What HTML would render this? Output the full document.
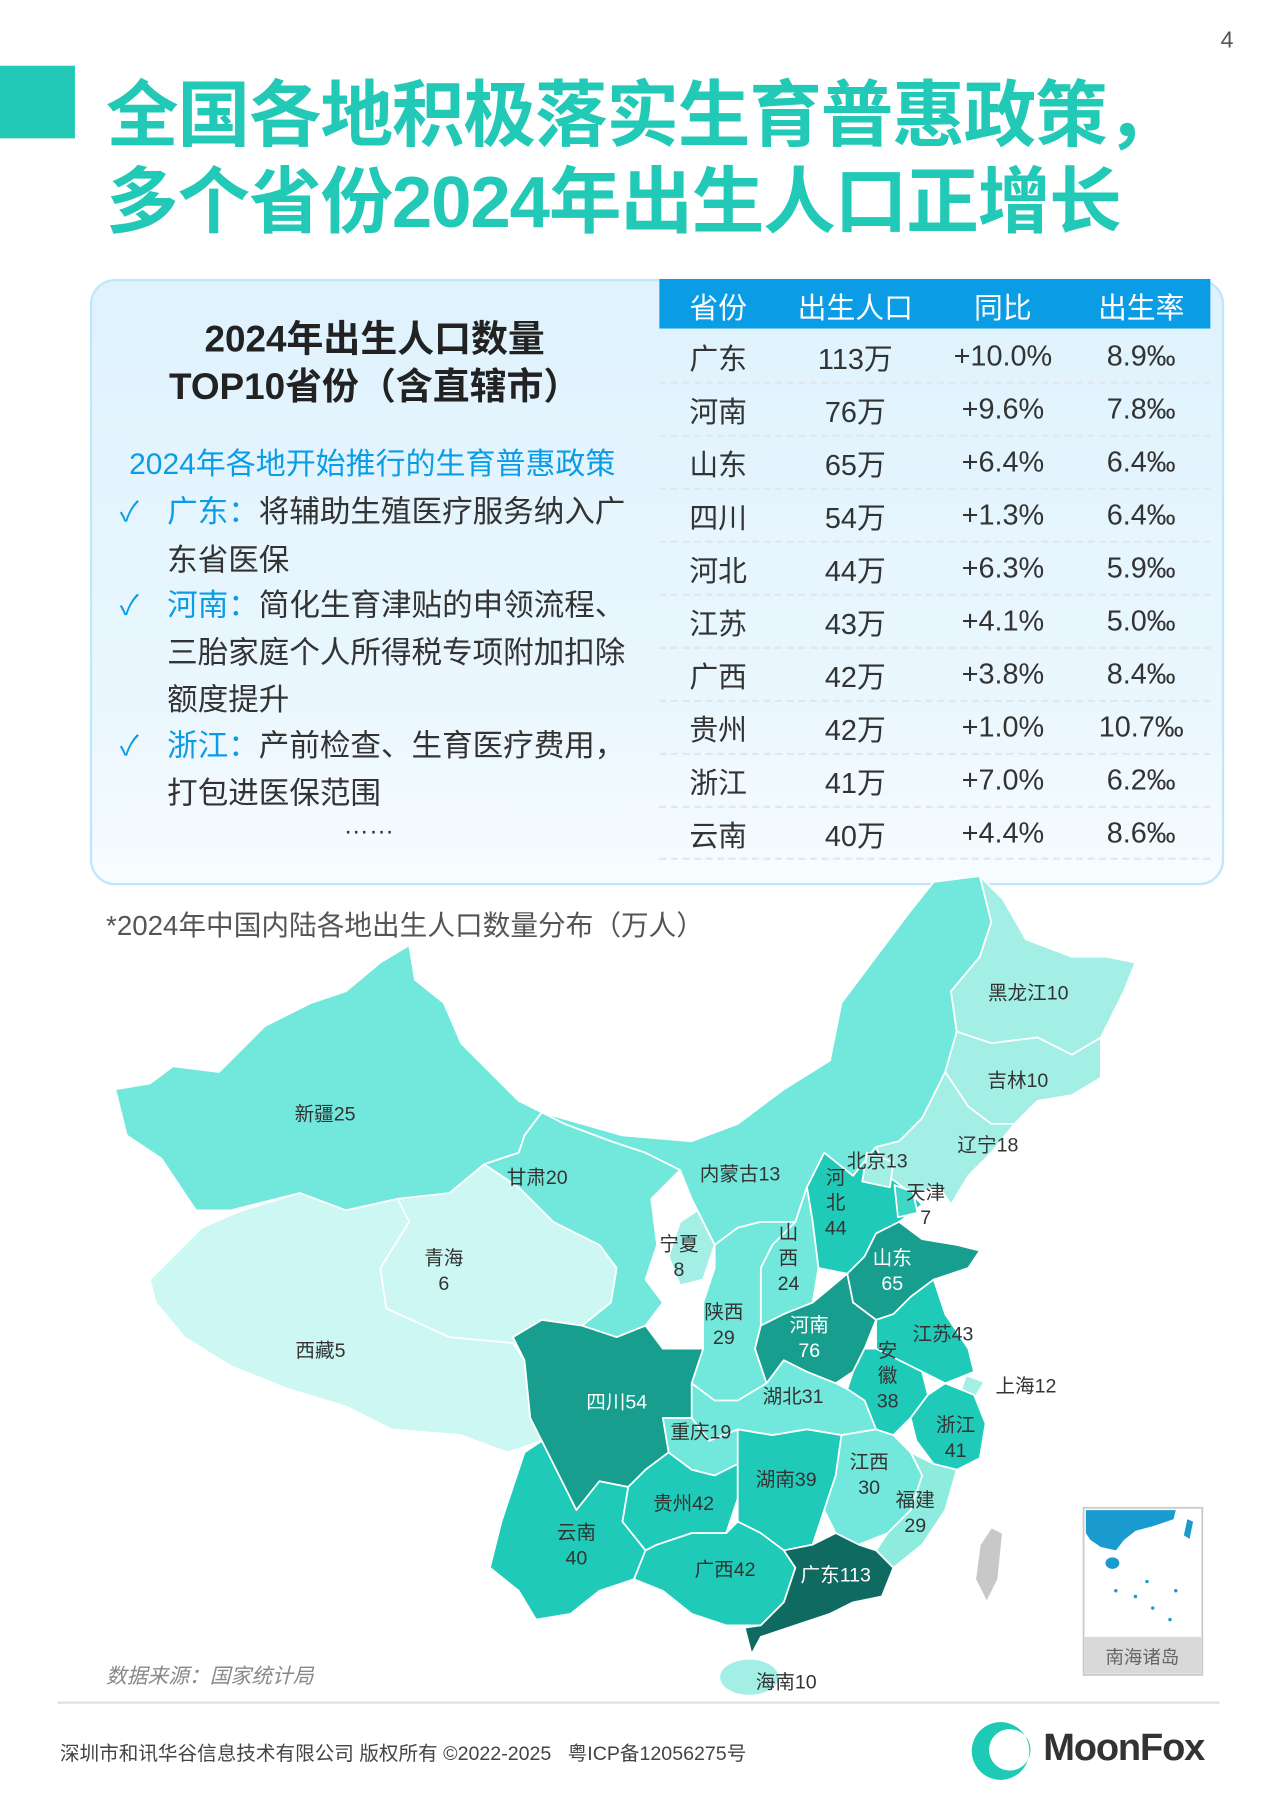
<!DOCTYPE html>
<html><head><meta charset="utf-8">
<style>
html,body{margin:0;padding:0;background:#fff;}
body{width:1268px;height:1793px;overflow:hidden;position:relative;}
#w{position:absolute;left:0;top:0;width:1100px;height:1556px;transform:scale(1.15273);transform-origin:0 0;font-family:"Liberation Sans","Noto Sans CJK SC",sans-serif;}
.a{position:absolute;white-space:nowrap;}
.t{font-weight:bold;color:#22c9b6;font-size:63px;left:92px;letter-spacing:-1px;}
.panel{position:absolute;left:78px;top:242px;width:984px;height:526px;border-radius:22px;border:2px solid #bfe6fa;background:linear-gradient(#dff2fd,#eaf7fe 70%,#f7fcff);box-sizing:border-box;}
.hd{position:absolute;left:572px;top:242px;width:478px;height:43px;background:#0a9de6;}
.c{position:absolute;text-align:center;font-size:25px;color:#333;width:130px;}
.sep{position:absolute;left:572px;width:478px;border-top:2px dashed #dfe8ee;}
.it{position:absolute;font-size:26.5px;color:#333;left:145px;}
.ck{position:absolute;left:104px;font-size:24px;color:#0a9de6;}
.b{color:#0a9de6;}
svg text{font-family:"Liberation Sans","Noto Sans CJK SC",sans-serif;font-size:17px;fill:#333;text-anchor:middle;}
</style></head><body><div id="w">
<div class="a" style="right:30px;top:24px;font-size:20px;color:#555;">4</div>
<div class="a" style="left:0;top:57px;width:65px;height:63px;background:#22c9b6;"></div>
<div class="a t" style="top:50px;">全国各地积极落实生育普惠政策，</div>
<div class="a t" style="top:125px;">多个省份2024年出生人口正增长</div>

<div class="panel"></div>
<div class="a" style="left:78px;width:494px;top:274px;text-align:center;font-size:32px;font-weight:bold;color:#222;line-height:41px;">2024年出生人口数量<br>TOP10省份（含直辖市）</div>
<div class="a" style="left:112px;top:382px;font-size:26px;color:#0a9de6;">2024年各地开始推行的生育普惠政策</div>
<div class="ck" style="top:424px;">✓</div><div class="it" style="top:422px;"><span class="b">广东：</span>将辅助生殖医疗服务纳入广</div>
<div class="it" style="top:464px;">东省医保</div>
<div class="ck" style="top:505px;">✓</div><div class="it" style="top:503px;"><span class="b">河南：</span>简化生育津贴的申领流程、</div>
<div class="it" style="top:544px;">三胎家庭个人所得税专项附加扣除</div>
<div class="it" style="top:585px;">额度提升</div>
<div class="ck" style="top:627px;">✓</div><div class="it" style="top:625px;"><span class="b">浙江：</span>产前检查、生育医疗费用，</div>
<div class="it" style="top:666px;">打包进医保范围</div>
<div class="a" style="left:298px;top:703px;font-size:22px;color:#333;">……</div>

<div class="hd"></div>
<div class="c" style="left:558px;top:248px;color:#fff;">省份</div>
<div class="c" style="left:677px;top:248px;color:#fff;">出生人口</div>
<div class="c" style="left:805px;top:248px;color:#fff;">同比</div>
<div class="c" style="left:925px;top:248px;color:#fff;">出生率</div>

<div class="c" style="left:558px;top:292px">广东</div><div class="c" style="left:677px;top:292px">113万</div><div class="c" style="left:805px;top:295px">+10.0%</div><div class="c" style="left:925px;top:295px">8.9‰</div>
<div class="c" style="left:558px;top:338px">河南</div><div class="c" style="left:677px;top:338px">76万</div><div class="c" style="left:805px;top:341px">+9.6%</div><div class="c" style="left:925px;top:341px">7.8‰</div>
<div class="c" style="left:558px;top:384px">山东</div><div class="c" style="left:677px;top:384px">65万</div><div class="c" style="left:805px;top:387px">+6.4%</div><div class="c" style="left:925px;top:387px">6.4‰</div>
<div class="c" style="left:558px;top:430px">四川</div><div class="c" style="left:677px;top:430px">54万</div><div class="c" style="left:805px;top:433px">+1.3%</div><div class="c" style="left:925px;top:433px">6.4‰</div>
<div class="c" style="left:558px;top:476px">河北</div><div class="c" style="left:677px;top:476px">44万</div><div class="c" style="left:805px;top:479px">+6.3%</div><div class="c" style="left:925px;top:479px">5.9‰</div>
<div class="c" style="left:558px;top:522px">江苏</div><div class="c" style="left:677px;top:522px">43万</div><div class="c" style="left:805px;top:525px">+4.1%</div><div class="c" style="left:925px;top:525px">5.0‰</div>
<div class="c" style="left:558px;top:568px">广西</div><div class="c" style="left:677px;top:568px">42万</div><div class="c" style="left:805px;top:571px">+3.8%</div><div class="c" style="left:925px;top:571px">8.4‰</div>
<div class="c" style="left:558px;top:614px">贵州</div><div class="c" style="left:677px;top:614px">42万</div><div class="c" style="left:805px;top:617px">+1.0%</div><div class="c" style="left:925px;top:617px">10.7‰</div>
<div class="c" style="left:558px;top:660px">浙江</div><div class="c" style="left:677px;top:660px">41万</div><div class="c" style="left:805px;top:663px">+7.0%</div><div class="c" style="left:925px;top:663px">6.2‰</div>
<div class="c" style="left:558px;top:706px">云南</div><div class="c" style="left:677px;top:706px">40万</div><div class="c" style="left:805px;top:709px">+4.4%</div><div class="c" style="left:925px;top:709px">8.6‰</div>
<div class="sep" style="top:331px"></div><div class="sep" style="top:377px"></div><div class="sep" style="top:423px"></div><div class="sep" style="top:469px"></div><div class="sep" style="top:515px"></div><div class="sep" style="top:561px"></div><div class="sep" style="top:607px"></div><div class="sep" style="top:653px"></div><div class="sep" style="top:699px"></div><div class="sep" style="top:744px"></div>

<div class="a" style="left:92px;top:783px;font-size:24px;color:#555;">*2024年中国内陆各地出生人口数量分布（万人）</div>

<svg class="a" style="left:0;top:0" width="1100" height="1556" viewBox="0 0 1100 1556">
<g stroke="#fff" stroke-width="1.5" stroke-linejoin="round">
<polygon fill="#72e8dc" points="100,945 130,940 150,925 190,930 230,890 270,870 300,860 330,835 355,820 360,850 385,870 400,905 415,920 450,955 470,965 455,985 450,1000 420,1010 390,1035 345,1040 300,1050 260,1035 200,1050 170,1050 140,1005 110,985"/>
<polygon fill="#ccf7f2" points="130,1110 175,1065 210,1050 260,1035 300,1050 345,1040 355,1060 330,1100 335,1135 390,1160 445,1165 455,1180 460,1230 470,1250 440,1260 400,1245 340,1240 300,1220 250,1205 200,1185 160,1160 135,1130"/>
<polygon fill="#ccf7f2" points="345,1040 390,1035 420,1010 450,1030 480,1060 520,1080 535,1100 530,1130 505,1150 470,1145 455,1180 445,1165 390,1160 335,1135 330,1100 355,1060"/>
<polygon fill="#72e8dc" points="420,1010 450,1000 455,985 470,965 490,975 530,990 560,1000 590,1015 565,1040 570,1080 560,1110 575,1130 560,1150 535,1160 505,1150 530,1130 535,1100 520,1080 480,1060 450,1030"/>
<polygon fill="#72e8dc" points="470,965 540,985 600,990 640,975 680,945 720,920 730,870 760,830 790,790 810,765 850,760 860,800 850,830 825,860 830,895 820,930 800,970 780,990 760,995 740,1020 715,1000 700,1030 690,1060 660,1060 640,1065 620,1080 600,1040 590,1015 560,1000 530,990 490,975"/>
<polygon fill="#a3efe6" points="850,760 860,800 850,830 825,860 830,895 860,905 900,900 930,915 955,900 975,860 985,835 960,830 930,830 890,815 870,780"/>
<polygon fill="#a3efe6" points="820,930 830,895 860,905 900,900 930,915 955,900 955,935 930,950 900,955 880,975 860,975 840,960"/>
<polygon fill="#a3efe6" points="800,970 820,930 840,960 860,975 880,975 860,1000 840,1020 825,1045 815,1030 790,1035 770,1020 760,995 780,990"/>
<polygon fill="#1fcbb8" points="715,1000 740,1020 760,995 770,1020 790,1035 800,1045 780,1060 760,1070 750,1090 735,1105 710,1100 705,1060 700,1030"/>
<polygon fill="#a3efe6" points="752,1000 775,1008 772,1030 748,1025"/>
<polygon fill="#3fd6c6" points="776,1028 792,1034 796,1052 779,1056"/>
<polygon fill="#72e8dc" points="690,1060 700,1030 705,1060 710,1100 705,1130 680,1140 660,1150 660,1100 670,1080"/>
<polygon fill="#72e8dc" points="640,1065 660,1060 690,1060 670,1080 660,1100 660,1150 655,1170 665,1200 640,1215 620,1215 600,1200 610,1170 610,1130 620,1100 620,1080"/>
<polygon fill="#a3efe6" points="590,1060 605,1050 620,1080 610,1110 590,1115 580,1090"/>
<polygon fill="#189e8e" points="735,1105 750,1090 760,1070 780,1060 800,1075 830,1080 850,1085 840,1100 810,1110 790,1125 775,1140 760,1145 740,1130"/>
<polygon fill="#189e8e" points="660,1150 680,1140 705,1130 735,1105 740,1130 760,1145 750,1170 740,1190 725,1200 700,1190 680,1180 665,1200 655,1170"/>
<polygon fill="#1fcbb8" points="760,1145 775,1140 790,1125 810,1110 820,1140 840,1170 845,1190 820,1200 800,1190 780,1180 760,1170"/>
<polygon fill="#1fcbb8" points="750,1170 760,1170 780,1180 800,1190 805,1210 790,1230 775,1245 760,1240 750,1215 735,1205 740,1190"/>
<polygon fill="#a3efe6" points="838,1193 854,1199 846,1212 834,1205"/>
<polygon fill="#1fcbb8" points="805,1210 820,1200 845,1210 855,1235 850,1265 830,1275 810,1270 795,1250 790,1230"/>
<polygon fill="#72e8dc" points="600,1200 620,1215 640,1215 665,1200 680,1180 700,1190 725,1200 735,1205 750,1215 760,1240 730,1245 700,1240 670,1245 640,1240 615,1250 600,1230"/>
<polygon fill="#72e8dc" points="575,1230 600,1230 615,1250 640,1240 640,1270 620,1280 600,1275 580,1260"/>
<polygon fill="#189e8e" points="445,1160 470,1145 505,1150 535,1160 560,1150 575,1170 610,1170 600,1200 600,1230 575,1230 580,1260 560,1275 545,1290 520,1285 500,1310 490,1290 470,1250 460,1230 455,1180"/>
<polygon fill="#1fcbb8" points="470,1250 490,1290 500,1310 520,1285 545,1290 540,1320 560,1345 550,1370 520,1380 495,1400 465,1405 450,1380 425,1360 435,1320 445,1290 455,1260"/>
<polygon fill="#1fcbb8" points="545,1290 560,1275 580,1260 600,1275 620,1280 640,1270 640,1300 630,1330 600,1330 570,1340 560,1345 540,1320"/>
<polygon fill="#1fcbb8" points="640,1240 670,1245 700,1240 730,1245 725,1280 715,1310 705,1340 680,1345 660,1330 640,1320 640,1300 640,1270"/>
<polygon fill="#72e8dc" points="730,1245 760,1240 775,1245 790,1260 800,1280 790,1310 770,1330 745,1340 725,1330 715,1310 725,1280"/>
<polygon fill="#8eecdf" points="790,1260 810,1270 830,1275 820,1310 800,1340 775,1360 760,1345 770,1330 790,1310 800,1280"/>
<polygon fill="#1fcbb8" points="560,1345 570,1340 600,1330 630,1330 640,1320 660,1330 680,1345 690,1360 680,1390 660,1410 630,1410 600,1400 575,1380 550,1370"/>
<polygon fill="#0f6b62" points="680,1345 705,1340 725,1330 745,1340 760,1345 775,1360 765,1385 740,1390 720,1400 690,1410 660,1420 652,1435 646,1412 660,1410 680,1390 690,1360"/>
<ellipse fill="#a3efe6" cx="650" cy="1455" rx="26" ry="16"/>
<polygon fill="#c8c8c8" points="860,1325 870,1330 866,1370 856,1390 846,1370 850,1340"/>
</g>
<text x="282" y="972">新疆25</text>
<text x="278" y="1177">西藏5</text>
<text x="385" y="1097">青海</text><text x="385" y="1119">6</text>
<text x="466" y="1027">甘肃20</text>
<text x="642" y="1024">内蒙古13</text>
<text x="892" y="867">黑龙江10</text>
<text x="883" y="943">吉林10</text>
<text x="857" y="999">辽宁18</text>
<text x="761" y="1013">北京13</text>
<text x="803" y="1040">天津</text><text x="803" y="1062">7</text>
<text x="725" y="1027">河</text><text x="725" y="1049">北</text><text x="725" y="1071">44</text>
<text x="684" y="1075">山</text><text x="684" y="1097">西</text><text x="684" y="1119">24</text>
<text x="589" y="1085">宁夏</text><text x="589" y="1107">8</text>
<text x="628" y="1144">陕西</text><text x="628" y="1166">29</text>
<text x="774" y="1097" style="fill:#fff">山东</text><text x="774" y="1119" style="fill:#fff">65</text>
<text x="702" y="1155" style="fill:#fff">河南</text><text x="702" y="1177" style="fill:#fff">76</text>
<text x="818" y="1163">江苏43</text>
<text x="770" y="1177">安</text><text x="770" y="1199">徽</text><text x="770" y="1221">38</text>
<text x="890" y="1208">上海12</text>
<text x="829" y="1242">浙江</text><text x="829" y="1264">41</text>
<text x="688" y="1217">湖北31</text>
<text x="535" y="1222" style="fill:#fff">四川54</text>
<text x="608" y="1248">重庆19</text>
<text x="682" y="1289">湖南39</text>
<text x="754" y="1274">江西</text><text x="754" y="1296">30</text>
<text x="794" y="1307">福建</text><text x="794" y="1329">29</text>
<text x="593" y="1310">贵州42</text>
<text x="500" y="1335">云南</text><text x="500" y="1357">40</text>
<text x="629" y="1367">广西42</text>
<text x="725" y="1372" style="fill:#fff">广东113</text>
<text x="682" y="1465">海南10</text>
<rect x="940" y="1308" width="103" height="145" fill="#fff" stroke="#c8c8c8" stroke-width="1.5"/>
<path d="M942,1310 L1020,1310 L1018,1318 L1000,1324 L985,1328 L975,1336 L968,1345 L955,1342 L946,1336 L942,1330Z" fill="#1a9bd0"/>
<ellipse cx="965" cy="1356" rx="6" ry="5" fill="#1a9bd0"/>
<path d="M1030,1318 L1035,1320 L1032,1335 L1027,1332Z" fill="#1a9bd0"/>
<g fill="#1a9bd0"><circle cx="968" cy="1380" r="1.5"/><circle cx="985" cy="1385" r="1.5"/><circle cx="995" cy="1372" r="1.5"/><circle cx="1000" cy="1395" r="1.5"/><circle cx="1020" cy="1380" r="1.5"/><circle cx="1015" cy="1405" r="1.5"/></g>
<rect x="941" y="1420" width="101" height="32" fill="#d9d9d9"/>
<text x="991" y="1443" style="fill:#666;font-size:16px">南海诸岛</text>
<path fill-rule="evenodd" fill="#1ccab6" d="M868,1494 A25,25 0 1 0 868,1544 A25,25 0 1 0 868,1494Z M876,1500 A18,18 0 1 1 876,1536 A18,18 0 1 1 876,1500Z"/>
</svg>

<div class="a" style="left:92px;top:1440px;font-size:18px;color:#888;font-style:italic;">数据来源：国家统计局</div>
<div class="a" style="left:50px;top:1476px;width:1008px;height:2px;background:#e0e0e0;"></div>
<div class="a" style="left:52px;top:1507px;font-size:17px;color:#444;">深圳市和讯华谷信息技术有限公司 版权所有 ©2022-2025 &nbsp;&nbsp;粤ICP备12056275号</div>
<div class="a" style="left:905px;top:1497px;font-size:33px;font-weight:bold;color:#333;letter-spacing:-1px;">MoonFox</div>
</div></body></html>
